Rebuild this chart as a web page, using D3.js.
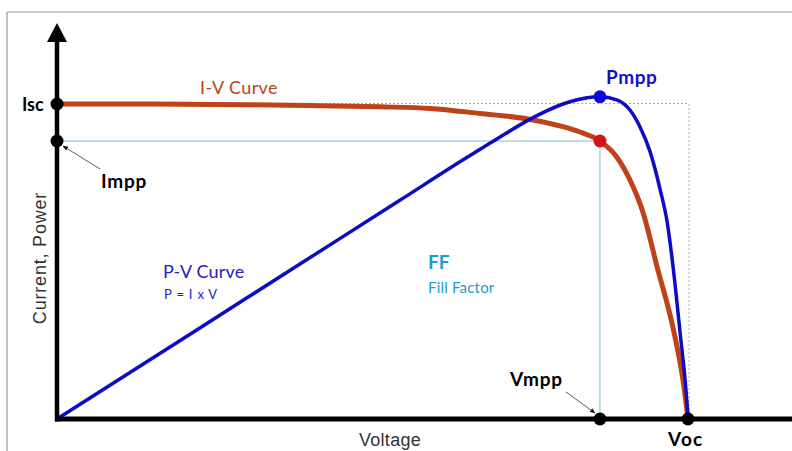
<!DOCTYPE html>
<html><head><meta charset="utf-8">
<script src="https://cdn.jsdelivr.net/npm/d3@7"></script>
<style>body{margin:0;background:#fff}svg{display:block}</style>
</head><body>
<svg id="c" width="792" height="451"></svg>
<script>
// Normalised units: voltage 0..100 (Voc = 100), current/power 0..100 (Isc = 100)
const ivVoltage = [0, 15, 30, 40, 51.2, 59.1, 67.0, 75.0, 80.2, 82.9, 86.05, 88.7, 90.8, 92.9, 95.1, 97.6, 99.2, 100];
const ivCurrent = [100, 100, 99.8, 99.5, 99.1, 98.6, 97.0, 95.1, 92.8, 91.1, 88.25, 83.2, 75.9, 65.4, 48.3, 29.2, 12.4, 0];
const pvVoltage = [0, 22.7, 38.5, 54.4, 64.3, 69.7, 75.0, 80.2, 84.0, 86.05, 88.7, 90.8, 92.4, 94.0, 95.6, 96.7, 97.6, 98.7, 99.8, 100];
const pvPower   = [0, 29.0, 49.2, 69.5, 82.2, 88.9, 95.2, 100.0, 102.0, 102.3, 101.3, 98.1, 92.7, 84.8, 72.7, 62.5, 48.9, 28.3, 6.0, 0];
const Isc = 100, Impp = 88.25, Vmpp = 86.05, Voc = 100, Pmpp = 102.3;
const labels = {isc:"Isc", impp:"Impp", vmpp:"Vmpp", voc:"Voc", pmpp:"Pmpp",
  iv:"I-V Curve", pv:"P-V Curve", pvf:"P = I x V", ff:"FF", ffl:"Fill Factor",
  xt:"Voltage", yt:"Current, Power"};

const svg = d3.select("#c");
const x = d3.scaleLinear().domain([0, 100]).range([57, 688]);
const y = d3.scaleLinear().domain([0, 100]).range([419, 104]);
const font = "Lato, 'Open Sans', sans-serif";
const red = "#bf4218", blue = "#0c0cc4", lblue = "#a9d3df", ffc = "#1e9ccc";

// frame
svg.append("line").attr("x1",7).attr("x2",792).attr("y1",12).attr("y2",12).attr("stroke","#9a9a9a").attr("stroke-width",1.2);
svg.append("line").attr("x1",7).attr("x2",7).attr("y1",12).attr("y2",451).attr("stroke","#9a9a9a").attr("stroke-width",1.2);

// defs arrow
svg.append("defs").append("marker").attr("id","ah").attr("viewBox","0 0 10 10").attr("refX",9).attr("refY",5)
  .attr("markerWidth",7).attr("markerHeight",7).attr("orient","auto")
  .append("path").attr("d","M0,1 L10,5 L0,9 Z").attr("fill","#111");

// guide lines
svg.append("line").attr("x1",x(0)).attr("x2",x(Vmpp)).attr("y1",y(Impp)).attr("y2",y(Impp)).attr("stroke",lblue).attr("stroke-width",1.5);
svg.append("line").attr("x1",x(Vmpp)).attr("x2",x(Vmpp)).attr("y1",y(Impp)).attr("y2",y(0)).attr("stroke",lblue).attr("stroke-width",1.5);
svg.append("line").attr("x1",x(0)).attr("x2",x(Voc)+1).attr("y1",y(Isc)-0.5).attr("y2",y(Isc)-0.5).attr("stroke","#aaa").attr("stroke-width",1).attr("stroke-dasharray","2,2");
svg.append("line").attr("x1",x(Voc)+1).attr("x2",x(Voc)+1).attr("y1",y(Isc)).attr("y2",y(0)).attr("stroke","#aaa").attr("stroke-width",1).attr("stroke-dasharray","2,2");

// curves
const line = d3.line().curve(d3.curveMonotoneX);
svg.append("path").attr("d", line(ivVoltage.map((v,i)=>[x(v), y(ivCurrent[i])])))
  .attr("fill","none").attr("stroke",red).attr("stroke-width",5).attr("stroke-linecap","round");
svg.append("path").attr("d", line(pvVoltage.map((v,i)=>[x(v), y(pvPower[i])])))
  .attr("fill","none").attr("stroke",blue).attr("stroke-width",3.5).attr("stroke-linecap","round");

// axes
svg.append("line").attr("x1",x(0)).attr("x2",x(0)).attr("y1",38).attr("y2",y(0)+2.5).attr("stroke","#000").attr("stroke-width",4.5);
svg.append("path").attr("d",`M${x(0)-10},42 L${x(0)+10},42 L${x(0)},23 Z`).attr("fill","#000");
svg.append("line").attr("x1",x(0)-2).attr("x2",792).attr("y1",y(0)).attr("y2",y(0)).attr("stroke","#000").attr("stroke-width",5);

// dots
const dots = [[0,Isc,"#000"],[0,Impp,"#000"],[Vmpp,0,"#000"],[Voc,0,"#000"]];
dots.forEach(d=>svg.append("circle").attr("cx",x(d[0])).attr("cy",y(d[1])).attr("r",6.5).attr("fill",d[2]));
svg.append("circle").attr("cx",x(Vmpp)).attr("cy",y(Pmpp)).attr("r",6.5).attr("fill","#0a0ad0");
svg.append("circle").attr("cx",x(Vmpp)).attr("cy",y(Impp)).attr("r",6.5).attr("fill","#d0141a");

// annotation arrows
svg.append("line").attr("x1",100).attr("y1",169).attr("x2",63).attr("y2",146).attr("stroke","#333").attr("stroke-width",0.8).attr("marker-end","url(#ah)");
svg.append("line").attr("x1",566).attr("y1",392).attr("x2",595).attr("y2",413).attr("stroke","#333").attr("stroke-width",0.8).attr("marker-end","url(#ah)");

// texts
function t(s, px, py, o){
  const e = svg.append("text").attr("x",px).attr("y",py).text(s)
    .attr("font-family",font).attr("font-size",o.size).attr("font-weight",o.w||"normal").attr("fill",o.c||"#000")
    .attr("letter-spacing", o.ls||0);
  if(o.a) e.attr("text-anchor",o.a);
  return e;
}
t(labels.isc, 22, 111, {size:18, w:"bold"});
t(labels.impp, 101, 188, {size:19, w:"bold", ls:0.8});
t(labels.vmpp, 510, 386, {size:19, w:"bold", ls:0.8});
t(labels.voc, 668, 446, {size:19, w:"bold", ls:1.2});
t(labels.pmpp, 606, 84, {size:19, w:"bold", c:"#1010c8", ls:0.6});
t(labels.iv, 200, 94, {size:18, c:red, ls:0.4});
t(labels.pv, 163, 278, {size:18, c:"#2222c0", ls:0.2});
t(labels.pvf, 164, 299, {size:13, c:"#2222c0", ls:0.8});
t(labels.ff, 428, 269, {size:19, w:"bold", c:ffc});
t(labels.ffl, 428, 293, {size:15, c:ffc, ls:0.2});
t(labels.xt, 390, 446, {size:18, c:"#333", a:"middle", ls:0.3}).attr("font-family","'Liberation Sans', Arial, sans-serif");
t(labels.yt, 0, 0, {size:18, c:"#333", a:"middle", ls:0.8}).attr("font-family","'Liberation Sans', Arial, sans-serif")
  .attr("transform","translate(46,258) rotate(-90)");
</script>
</body></html>
